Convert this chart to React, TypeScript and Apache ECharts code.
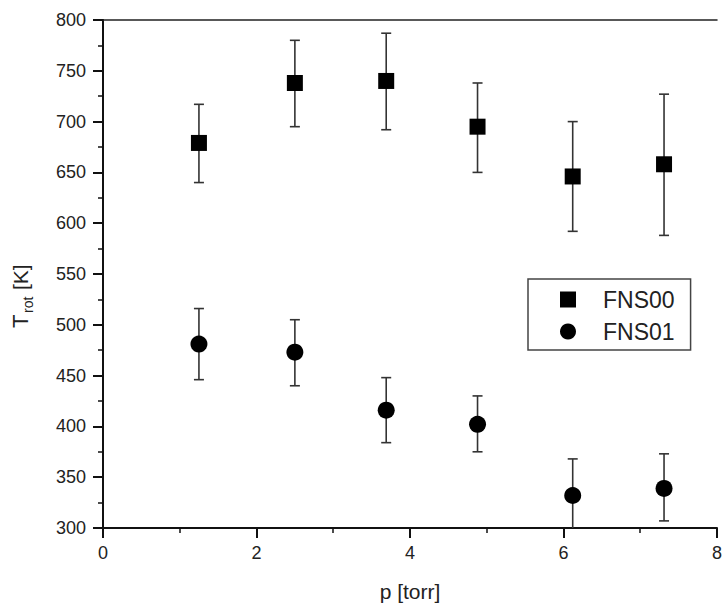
import React, { useEffect, useRef } from "react";
import * as echarts from "echarts";

const xValues = [1.25, 2.5, 3.69, 4.88, 6.12, 7.31];
const fns00 = [679, 738, 740, 695, 646, 658];
const fns00Hi = [717, 780, 787, 738, 700, 727];
const fns00Lo = [640, 695, 692, 650, 592, 588];
const fns01 = [481, 473, 416, 402, 332, 339];
const fns01Hi = [516, 505, 448, 430, 368, 373];
const fns01Lo = [446, 440, 384, 375, 298, 307];
const seriesNames = ["FNS00", "FNS01"];

const FONT = "'Liberation Sans', Arial, sans-serif";

function errRender(params: any, api: any) {
  const x = api.value(0);
  const lo = api.value(1);
  const hi = api.value(2);
  const pTop = api.coord([x, hi]);
  const pBot = api.coord([x, lo]);
  const half = 5;
  const style = { stroke: "#333", lineWidth: 1.6 };
  return {
    type: "group",
    children: [
      { type: "line", shape: { x1: pTop[0], y1: pTop[1], x2: pBot[0], y2: pBot[1] }, style },
      { type: "line", shape: { x1: pTop[0] - half, y1: pTop[1], x2: pTop[0] + half, y2: pTop[1] }, style },
      { type: "line", shape: { x1: pBot[0] - half, y1: pBot[1], x2: pBot[0] + half, y2: pBot[1] }, style },
    ],
  };
}

export default function App() {
  const ref = useRef<HTMLDivElement>(null);
  useEffect(() => {
    if (!ref.current) return;
    const chart = echarts.init(ref.current, undefined, { renderer: "svg" });
    const axisLine = { show: true, lineStyle: { color: "#111", width: 2 } };
    chart.setOption({
      animation: false,
      backgroundColor: "#fff",
      grid: { left: 103, top: 20, right: 3, bottom: 81, containLabel: false },
      xAxis: [
        {
          type: "value",
          min: 0,
          max: 8,
          interval: 2,
          position: "bottom",
          axisLine,
          axisTick: { show: true, inside: false, length: 10, lineStyle: { color: "#111", width: 2 } },
          minorTick: { show: true, splitNumber: 2, length: 5, lineStyle: { color: "#111", width: 1.5 } },
          splitLine: { show: false },
          minorSplitLine: { show: false },
          axisLabel: { margin: 16, fontSize: 18, color: "#222", fontFamily: FONT },
          name: "p [torr]",
          nameLocation: "middle",
          nameGap: 53,
          nameTextStyle: { fontSize: 21, color: "#222", fontFamily: FONT },
        },
        {
          type: "value",
          min: 0,
          max: 8,
          position: "top",
          axisLine: { show: true, lineStyle: { color: "#222", width: 1.6 } },
          axisTick: { show: false },
          axisLabel: { show: false },
          splitLine: { show: false },
        },
      ],
      yAxis: [
        {
          type: "value",
          min: 300,
          max: 800,
          interval: 50,
          position: "left",
          axisLine,
          axisTick: { show: true, inside: false, length: 10, lineStyle: { color: "#111", width: 2 } },
          minorTick: { show: true, splitNumber: 2, length: 5, lineStyle: { color: "#111", width: 1.5 } },
          splitLine: { show: false },
          minorSplitLine: { show: false },
          axisLabel: { margin: 17, fontSize: 18, color: "#222", fontFamily: FONT },
        },
        {
          type: "value",
          min: 300,
          max: 800,
          position: "right",
          axisLine,
          axisTick: { show: false },
          axisLabel: { show: false },
          splitLine: { show: false },
        },
      ],
      legend: {
        data: seriesNames,
        orient: "vertical",
        left: 528,
        top: 279,
        padding: [9, 16, 7, 32],
        itemWidth: 16,
        itemHeight: 16,
        itemGap: 9,
        borderColor: "#444",
        borderWidth: 1.5,
        backgroundColor: "#fff",
        textStyle: { fontSize: 23, color: "#222", fontFamily: FONT, padding: [0, 0, 0, 22], lineHeight: 22 },
      },
      graphic: [
        {
          type: "text",
          x: 20.5,
          y: 328,
          rotation: Math.PI / 2,
          style: { text: "T", font: `22px ${FONT}`, fill: "#222", align: "left", verticalAlign: "middle" },
        },
        {
          type: "text",
          x: 28,
          y: 313,
          rotation: Math.PI / 2,
          style: { text: "rot", font: `14px ${FONT}`, fill: "#222", align: "left", verticalAlign: "middle" },
        },
        {
          type: "text",
          x: 20.5,
          y: 290,
          rotation: Math.PI / 2,
          style: { text: "[K]", font: `21px ${FONT}`, fill: "#222", align: "left", verticalAlign: "middle" },
        },
      ],
      series: [
        {
          name: "err00",
          type: "custom",
          renderItem: errRender,
          clip: true,
          encode: { x: 0, y: [1, 2] },
          data: xValues.map((x, i) => [x, fns00Lo[i], fns00Hi[i]]),
          z: 1,
        },
        {
          name: "err01",
          type: "custom",
          renderItem: errRender,
          clip: true,
          encode: { x: 0, y: [1, 2] },
          data: xValues.map((x, i) => [x, fns01Lo[i], fns01Hi[i]]),
          z: 1,
        },
        {
          name: seriesNames[0],
          type: "scatter",
          symbol: "rect",
          symbolSize: 16,
          itemStyle: { color: "#000", opacity: 1 },
          data: xValues.map((x, i) => [x, fns00[i]]),
          z: 3,
        },
        {
          name: seriesNames[1],
          type: "scatter",
          symbol: "circle",
          symbolSize: 17,
          itemStyle: { color: "#000", opacity: 1 },
          data: xValues.map((x, i) => [x, fns01[i]]),
          z: 3,
        },
      ],
    });
    return () => chart.dispose();
  }, []);
  return (
    <div
      ref={ref}
      style={{ position: "fixed", left: 0, top: 0, width: 725, height: 609 }}
    />
  );
}
